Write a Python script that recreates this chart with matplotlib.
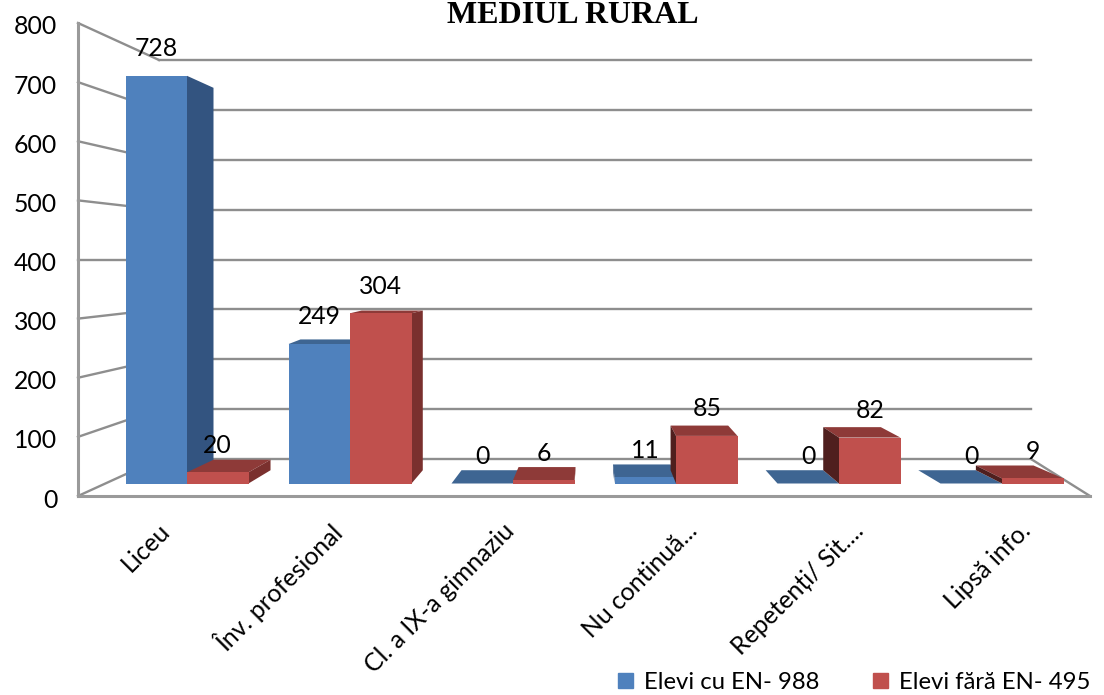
import matplotlib
matplotlib.use("Agg")
import matplotlib.pyplot as plt
from matplotlib.patches import Patch
from matplotlib.transforms import ScaledTranslation
import numpy as np

plt.rcParams['font.family'] = ['Lato', 'DejaVu Sans']

categories = ['Liceu', 'Înv. profesional', 'Cl. a IX-a gimnaziu', 'Nu continuă...', 'Repetenți/ Sit....', 'Lipsă info.']
cu_en = [728, 249, 0, 11, 0, 0]
fara_en = [20, 304, 6, 85, 82, 9]
y_ticks = [0, 100, 200, 300, 400, 500, 600, 700, 800]
title = 'MEDIUL RURAL'
legend_labels = ['Elevi cu EN- 988', 'Elevi fără EN- 495']

W, H = 1104, 695
# plot box in pixels, the front wall of the fake 3D box
left, right, top, bottom = 78, 1090, 23, 496
first_center, step, bar_px = 187, 163, 61.5
base_px = 483.5
bar_scale = 0.56
font_size = 17.8

def px_x(d):
    return first_center + np.asarray(d, dtype=float) * step

def px_y(v):
    return bottom - np.asarray(v, dtype=float) * (bottom - top) / 800

def data_x(p):
    return (np.asarray(p, dtype=float) - first_center) / step

def data_y(p):
    return (bottom - np.asarray(p, dtype=float)) * 800 / (bottom - top)

# where a front corner ends up on the back of the bar
def back_x(x):
    knots = [125, 187, 249, 288, 411, 452, 575, 1063]
    shift = [31, 26.5, 22, 12, 11.3, 10, 1, -30]
    return x + np.interp(x, knots, shift)

def back_y(y):
    return 16.7 + 0.938 * y

fig = plt.figure(figsize=(W / 100, H / 100), dpi=100)
ax = fig.add_axes([left / W, 1 - bottom / H, (right - left) / W, (bottom - top) / H])
ax.set_xlim(data_x(left), data_x(right))
ax.set_ylim(0, 800)
ax.patch.set_visible(False)

grid_color = '#8e8e8e'
for s in ['top', 'right']:
    ax.spines[s].set_visible(False)
for s in ['left', 'bottom']:
    ax.spines[s].set_color('#9a9a9a')
    ax.spines[s].set_linewidth(2.2)

# walls
wall_l, wall_r = 159, 1031
for v in y_ticks:
    yb = 459 - 0.49875 * v
    ax.plot(data_x([left, wall_l]), [v, data_y(yb)], color=grid_color, lw=1.7, zorder=1, clip_on=False)
    ax.plot(data_x([wall_l, wall_r]), [data_y(yb), data_y(yb)], color=grid_color, lw=1.7, zorder=1, clip_on=False)
ax.plot(data_x([wall_r, right]), [data_y(459), 0], color=grid_color, lw=1.7, zorder=1, clip_on=False)

def draw_series(values, offset, front, top_c, side_r, side_l, z):
    xs = np.arange(len(values)) + offset * bar_px / step
    bw = bar_px / step
    base = data_y(base_px)
    heights = np.array(values) * bar_scale * 800 / (bottom - top)
    for x, h in zip(xs, heights):
        x0, x1 = px_x(x - bw / 2), px_x(x + bw / 2)
        yt = px_y(base + h)
        ybt, ybb = back_y(yt), back_y(base_px)
        bx0, bx1 = back_x(x0), back_x(x1)
        if ybt < yt:
            ax.fill(data_x([x0, x1, bx1, bx0]), data_y([yt, yt, ybt, ybt]), color=top_c, lw=0, zorder=z)
        if bx1 > x1:
            ax.fill(data_x([x1, bx1, bx1, x1]), data_y([yt, ybt, ybb, base_px]), color=side_r, lw=0, zorder=z)
        if bx0 < x0:
            ax.fill(data_x([x0, bx0, bx0, x0]), data_y([yt, ybt, ybb, base_px]), color=side_l, lw=0, zorder=z)
    ax.bar(xs, heights, bw, bottom=base, color=front, zorder=z + 0.5)
    for x, h, v in zip(xs, heights, values):
        ax.annotate(str(v), (x, base + h), xytext=(0, 19.5), textcoords='offset points',
                    ha='center', va='center', fontsize=font_size, color='black', zorder=10)

draw_series(cu_en, -0.5, '#4f81bd', '#3e6592', '#335480', '#335480', 2)
draw_series(fara_en, 0.5, '#c0504d', '#8e3a38', '#7a302e', '#4f1f1e', 4)

ax.set_yticks(y_ticks)
ax.tick_params(axis='y', length=0, pad=15, labelsize=font_size)
for lab in ax.get_yticklabels():
    lab.set_transform(lab.get_transform() + ScaledTranslation(0, -2 / 100, fig.dpi_scale_trans))
ax.set_xticks(np.arange(len(categories)))
ax.set_xticklabels(categories, rotation=45, ha='right', rotation_mode='anchor', fontsize=font_size)
ax.tick_params(axis='x', length=0, pad=16.5)
label_shift = [-29, -21, -11, 9, 13, 17]
for lab, dx in zip(ax.get_xticklabels(), label_shift):
    lab.set_transform(lab.get_transform() + ScaledTranslation(dx / 100, 0, fig.dpi_scale_trans))

fig.text(573 / W, 1 - 15.5 / H, title, family='Liberation Serif', weight='bold', fontsize=23,
         ha='center', va='center')

handles = [Patch(color='#4f81bd'), Patch(color='#c0504d')]
fig.legend(handles, legend_labels, ncols=2, frameon=False, fontsize=17.2, loc='lower right',
           bbox_to_anchor=(1112 / W, -0.028), handlelength=0.64, handleheight=0.64,
           handletextpad=0.45, columnspacing=2.26)

fig.savefig('out.png', dpi=100)
